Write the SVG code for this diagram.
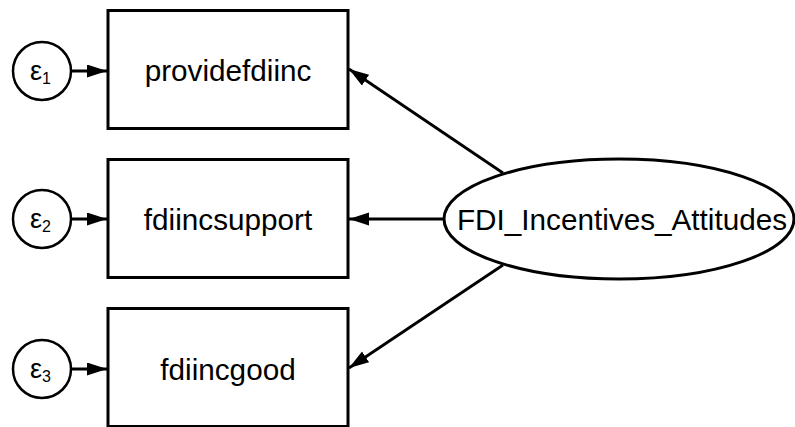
<svg xmlns="http://www.w3.org/2000/svg" width="795" height="427" viewBox="0 0 795 427">
<style>
.box{fill:#fff;stroke:#000;stroke-width:3}
.err{fill:#fff;stroke:#000;stroke-width:2.5}
.lbl{font-family:"Liberation Sans",Arial,sans-serif;font-size:29.7px;fill:#000;text-anchor:middle}
.eps{font-family:"Liberation Sans",Arial,sans-serif;font-size:27px;fill:#000}
.sub{font-size:16px}
.con{stroke:#000;stroke-width:2.8;fill:none;marker-end:url(#ah)}
</style>
<defs>
<marker id="ah" markerUnits="userSpaceOnUse" markerWidth="22" markerHeight="14" refX="20" refY="6.5" orient="auto">
<path d="M0,0 L20,6.5 L0,13 Z" fill="#000"/>
</marker>
</defs>
<g id="connectors">
<line class="con" x1="71" y1="71" x2="107" y2="71"/>
<line class="con" x1="71" y1="219" x2="107" y2="219"/>
<line class="con" x1="71" y1="369" x2="107" y2="369"/>
<line class="con" x1="503" y1="173" x2="349" y2="69"/>
<line class="con" x1="444" y1="219" x2="349" y2="219"/>
<line class="con" x1="503" y1="265" x2="349" y2="368"/>
</g>
<g id="providefdiinc">
<rect class="box" x="108" y="10.5" width="240" height="118"/>
<text class="lbl" x="228" y="80.5">providefdiinc</text>
</g>
<g id="fdiincsupport">
<rect class="box" x="108" y="159.5" width="240" height="118"/>
<text class="lbl" x="228" y="229.5">fdiincsupport</text>
</g>
<g id="fdiincgood">
<rect class="box" x="108" y="308.5" width="240" height="118"/>
<text class="lbl" x="228" y="379.5">fdiincgood</text>
</g>
<g id="e1">
<circle class="err" cx="42" cy="71" r="29"/>
<text class="eps" x="30" y="80">ε<tspan class="sub" dy="4">1</tspan></text>
</g>
<g id="e2">
<circle class="err" cx="42" cy="219" r="29"/>
<text class="eps" x="30" y="228">ε<tspan class="sub" dy="4">2</tspan></text>
</g>
<g id="e3">
<circle class="err" cx="42" cy="369" r="29"/>
<text class="eps" x="30" y="378">ε<tspan class="sub" dy="4">3</tspan></text>
</g>
<g id="FDI_Incentives_Attitudes">
<ellipse class="box" cx="619" cy="219" rx="175" ry="60"/>
<text class="lbl" x="622" y="229.5">FDI_Incentives_Attitudes</text>
</g>
</svg>
